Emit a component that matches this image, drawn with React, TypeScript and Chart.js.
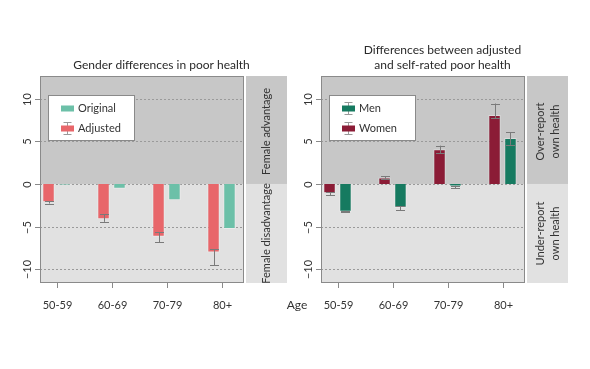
import React, { useEffect, useRef } from "react";
import { Chart, registerables } from "chart.js";

Chart.register(...registerables);

// ---------- data ----------
const ageGroups = ["50-59", "60-69", "70-79", "80+"];
const yTickValues = [-10, -5, 0, 5, 10];

const adjusted = [-2.15, -4.15, -6.2, -8.05];
const adjustedErrHigh = [-2.02, -3.55, -5.65, -7.65];
const adjustedErrLow = [-2.3, -4.45, -6.85, -9.55];
const original = [-0.12, -0.55, -1.9, -5.3];

const women = [-1.1, 0.75, 4.07, 8.1];
const womenErrHigh = [-0.95, 0.9, 4.5, 9.45];
const womenErrLow = [-1.3, 0.6, 3.6, 7.7];
const men = [-3.25, -2.8, -0.3, 5.4];
const menErrHigh = [-3.15, -2.6, -0.2, 6.07];
const menErrLow = [-3.32, -3.1, -0.5, 4.6];

const Y_MIN = -11.63;
const Y_MAX = 12.68;
const X_MIN = -0.3;
const X_MAX = 3.409;

const FONT = "Lato, 'Open Sans', sans-serif";
const DARK_BG = "#c7c7c7";
const LIGHT_BG = "#e1e1e1";
const TEXT = "#333333";

type LegendItem = { label: string; color: string; err: boolean };
type Panel = {
  padLeft: number;
  padRight: number;
  title: string[];
  stripTop: string[];
  stripBottom: string[];
  legend: LegendItem[];
  showAge: boolean;
  series: { label: string; values: number[]; color: string; low?: number[]; high?: number[] }[];
};

const leftPanel: Panel = {
  padLeft: 40,
  padRight: 346,
  title: ["Gender differences in poor health"],
  stripTop: ["Female advantage"],
  stripBottom: ["Female disadvantage"],
  legend: [
    { label: "Original", color: "#6cc0a8", err: false },
    { label: "Adjusted", color: "#e8666a", err: true },
  ],
  showAge: true,
  series: [
    { label: "Adjusted", values: adjusted, color: "#e8666a", low: adjustedErrLow, high: adjustedErrHigh },
    { label: "Original", values: original, color: "#6cc0a8" },
  ],
};

const rightPanel: Panel = {
  padLeft: 321,
  padRight: 65,
  title: ["Differences between adjusted", "and self-rated poor health"],
  stripTop: ["Over-report", "own health"],
  stripBottom: ["Under-report", "own health"],
  legend: [
    { label: "Men", color: "#167a60", err: true },
    { label: "Women", color: "#8b1c36", err: true },
  ],
  showAge: false,
  series: [
    { label: "Women", values: women, color: "#8b1c36", low: womenErrLow, high: womenErrHigh },
    { label: "Men", values: men, color: "#167a60", low: menErrLow, high: menErrHigh },
  ],
};

function fmt(v: number) {
  return v < 0 ? "\u2212" + Math.abs(v) : String(v);
}

function makePlugin(panel: Panel) {
  return {
    id: "rstyle",
    beforeDatasetsDraw(chart: any) {
      const ctx = chart.ctx as CanvasRenderingContext2D;
      const a = chart.chartArea;
      const y = chart.scales.y;
      const zy = y.getPixelForValue(0);
      ctx.save();
      ctx.fillStyle = DARK_BG;
      ctx.fillRect(a.left, a.top, a.right - a.left, zy - a.top);
      ctx.fillStyle = LIGHT_BG;
      ctx.fillRect(a.left, zy, a.right - a.left, a.bottom - zy);
      // strip
      const sx = a.right + 2;
      const sw = 41;
      ctx.fillStyle = DARK_BG;
      ctx.fillRect(sx, a.top, sw, zy - a.top);
      ctx.fillStyle = LIGHT_BG;
      ctx.fillRect(sx, zy, sw, a.bottom - zy);
      // grid
      ctx.strokeStyle = "#9a9a9a";
      ctx.lineWidth = 1;
      ctx.setLineDash([2, 2]);
      for (const t of yTickValues) {
        const py = Math.round(y.getPixelForValue(t)) + 0.5;
        ctx.beginPath();
        ctx.moveTo(a.left, py);
        ctx.lineTo(a.right, py);
        ctx.stroke();
      }
      ctx.restore();
    },
    afterDatasetsDraw(chart: any) {
      const ctx = chart.ctx as CanvasRenderingContext2D;
      const a = chart.chartArea;
      const y = chart.scales.y;
      const x = chart.scales.x;
      const zy = y.getPixelForValue(0);
      ctx.save();
      // error bars
      ctx.strokeStyle = "#7a7a7a";
      ctx.lineWidth = 1;
      panel.series.forEach((s, di) => {
        if (!s.low || !s.high) return;
        const meta = chart.getDatasetMeta(di);
        meta.data.forEach((el: any, i: number) => {
          const px = Math.round(el.x) + 0.5;
          const y1 = y.getPixelForValue(s.high![i]);
          const y2 = y.getPixelForValue(s.low![i]);
          ctx.beginPath();
          ctx.moveTo(px, y1);
          ctx.lineTo(px, y2);
          ctx.moveTo(px - 4.5, Math.round(y1) + 0.5);
          ctx.lineTo(px + 4.5, Math.round(y1) + 0.5);
          ctx.moveTo(px - 4.5, Math.round(y2) + 0.5);
          ctx.lineTo(px + 4.5, Math.round(y2) + 0.5);
          ctx.stroke();
        });
      });
      // plot border
      ctx.strokeStyle = "#8a8a8a";
      ctx.strokeRect(a.left + 0.5, a.top + 0.5, a.right - a.left - 1, a.bottom - a.top - 1);

      // y ticks
      ctx.fillStyle = TEXT;
      ctx.font = `11px ${FONT}`;
      for (const t of yTickValues) {
        const py = Math.round(y.getPixelForValue(t)) + 0.5;
        ctx.beginPath();
        ctx.moveTo(a.left - 5, py);
        ctx.lineTo(a.left, py);
        ctx.stroke();
        ctx.save();
        ctx.translate(a.left - 12.5, py);
        ctx.rotate(-Math.PI / 2);
        ctx.textAlign = "center";
        ctx.textBaseline = "middle";
        ctx.fillText(fmt(t), 0, 0);
        ctx.restore();
      }
      // x ticks
      ctx.textAlign = "center";
      ctx.textBaseline = "middle";
      ageGroups.forEach((lab, i) => {
        const px = Math.round(x.getPixelForValue(i)) + 0.5;
        ctx.beginPath();
        ctx.moveTo(px, a.bottom);
        ctx.lineTo(px, a.bottom + 5);
        ctx.stroke();
        ctx.fillText(lab, px, a.bottom + 22);
      });
      if (panel.showAge) {
        ctx.font = `12px ${FONT}`;
        ctx.fillText("Age", 297, a.bottom + 22);
      }
      // title
      ctx.font = `12px ${FONT}`;
      ctx.fillStyle = "#2a2a2a";
      const tcx = (a.left + a.right + 43) / 2 - 2;
      const n = panel.title.length;
      panel.title.forEach((line, i) => {
        ctx.fillText(line, tcx, a.top - 11 - (n - 1 - i) * 14.5);
      });
      // strip labels
      ctx.font = `11px ${FONT}`;
      ctx.fillStyle = TEXT;
      const scx = a.right + 2 + 20.5;
      const drawStrip = (lines: string[], cy: number) => {
        ctx.save();
        ctx.translate(scx, cy);
        ctx.rotate(-Math.PI / 2);
        ctx.textAlign = "center";
        ctx.textBaseline = "middle";
        const m = lines.length;
        lines.forEach((l, i) => {
          ctx.fillText(l, 0, (i - (m - 1) / 2) * 15);
        });
        ctx.restore();
      };
      drawStrip(panel.stripTop, (a.top + zy) / 2 + 1.5);
      drawStrip(panel.stripBottom, (zy + a.bottom) / 2);

      // legend
      const bx = a.left + 8.5;
      const by = a.top + 19.5;
      ctx.fillStyle = "#ffffff";
      ctx.fillRect(bx, by, 86, 45);
      ctx.strokeStyle = "#8a8a8a";
      ctx.strokeRect(bx, by, 86, 45);
      ctx.font = `11px ${FONT}`;
      ctx.textAlign = "left";
      panel.legend.forEach((it, i) => {
        const cy = by + 13 + i * 20;
        const sx = bx + 12.5;
        if (it.err) {
          ctx.strokeStyle = "#9a9a9a";
          ctx.beginPath();
          ctx.moveTo(sx + 6.5, cy - 6);
          ctx.lineTo(sx + 6.5, cy + 6);
          ctx.moveTo(sx + 2.5, cy - 6);
          ctx.lineTo(sx + 10.5, cy - 6);
          ctx.moveTo(sx + 2.5, cy + 6);
          ctx.lineTo(sx + 10.5, cy + 6);
          ctx.stroke();
        }
        ctx.fillStyle = it.color;
        ctx.fillRect(sx, cy - 3, 13, 6);
        ctx.fillStyle = TEXT;
        ctx.fillText(it.label, bx + 29.5, cy);
      });
      ctx.restore();
    },
  };
}

function PanelChart({ panel }: { panel: Panel }) {
  const ref = useRef<HTMLCanvasElement | null>(null);
  useEffect(() => {
    if (!ref.current) return;
    const chart = new Chart(ref.current, {
      type: "bar",
      data: {
        datasets: panel.series.map((s) => ({
          label: s.label,
          data: s.values.map((v, i) => ({ x: i, y: v })),
          backgroundColor: s.color,
          borderColor: "rgba(255,255,255,0.35)",
          borderWidth: 1,
          categoryPercentage: 0.58,
          barPercentage: 0.78,
        })),
      },
      options: {
        responsive: false,
        animation: false,
        events: [],
        layout: { padding: { left: panel.padLeft, right: panel.padRight, top: 76, bottom: 86 } },
        plugins: { legend: { display: false }, tooltip: { enabled: false } },
        scales: {
          x: {
            type: "linear",
            min: X_MIN,
            max: X_MAX,
            offset: false,
            display: false,
            grid: { offset: false },
            afterBuildTicks: (scale: any) => {
              scale.ticks = ageGroups.map((_, i) => ({ value: i }));
            },
          },
          y: { type: "linear", min: Y_MIN, max: Y_MAX, display: false },
        },
      } as any,
      plugins: [makePlugin(panel)],
    });
    return () => chart.destroy();
  }, [panel]);
  return (
    <canvas
      ref={ref}
      width={590}
      height={369}
      style={{ position: "absolute", left: 0, top: 0, width: 590, height: 369 }}
    />
  );
}

export default function App() {
  return (
    <div style={{ position: "absolute", left: 0, top: 0, width: 590, height: 369, background: "#ffffff" }}>
      <PanelChart panel={leftPanel} />
      <PanelChart panel={rightPanel} />
    </div>
  );
}
